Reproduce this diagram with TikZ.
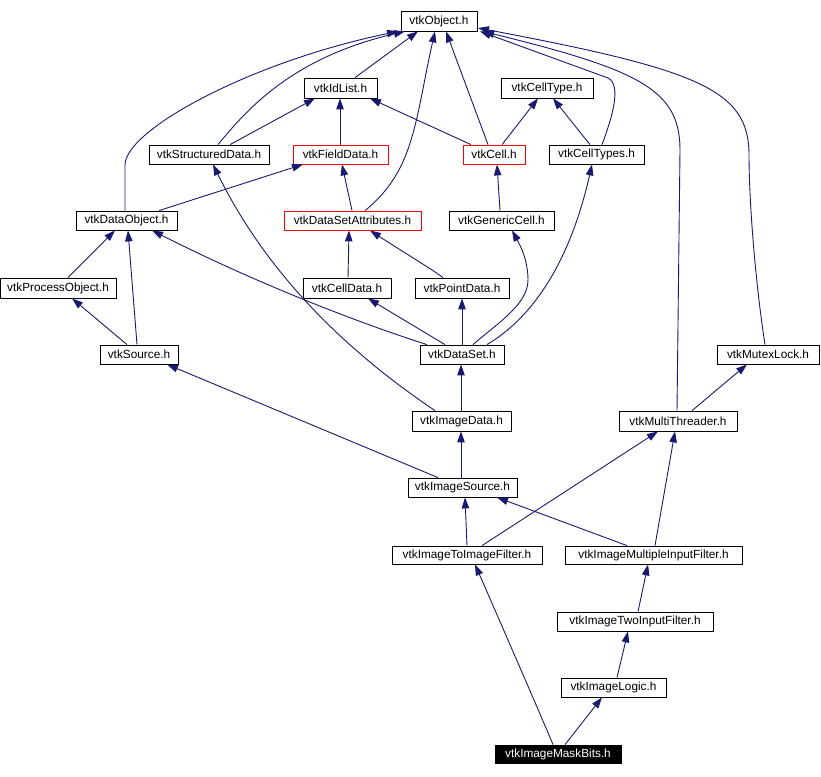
\documentclass[tikz,border=0pt]{standalone}
\usepackage{fontspec}
\setmainfont{Liberation Sans}
\usetikzlibrary{arrows.meta}
\definecolor{edgeblue}{HTML}{191970}
\begin{document}
\begin{tikzpicture}[x=1pt,y=-1pt,
  box/.style={draw=black, line width=0.8pt, inner sep=0pt, minimum height=19pt,
    font=\fontsize{11.8}{14}\selectfont, fill=white},
  redbox/.style={box, draw=red},
  blackbox/.style={box, fill=black, text=white},
  edge/.style={draw=edgeblue, line width=0.9pt, -{Triangle[length=11pt,width=7.5pt]}}]
\useasboundingbox (0,0) rectangle (821,776);
% nodes
\node[box, minimum width=76pt, minimum height=20pt] (obj) at (439,21) {vtkObject.h};
\node[box, minimum width=73pt, minimum height=20pt] (idl) at (340.5,88) {vtkIdList.h};
\node[box, minimum width=92pt, minimum height=20pt] (ctype) at (547,88) {vtkCellType.h};
\node[box, minimum width=120pt] (sd) at (209,154.5) {vtkStructuredData.h};
\node[redbox, minimum width=95pt] (fd) at (340.5,154.5) {vtkFieldData.h};
\node[redbox, minimum width=62pt] (cell) at (494,154.5) {vtkCell.h};
\node[box, minimum width=95pt] (cts) at (596.5,154.5) {vtkCellTypes.h};
\node[box, minimum width=101pt] (do) at (126.5,220.5) {vtkDataObject.h};
\node[redbox, minimum width=137pt] (dsa) at (352.5,220.5) {vtkDataSetAttributes.h};
\node[box, minimum width=105pt] (gc) at (501.5,220.5) {vtkGenericCell.h};
\node[box, minimum width=116pt, minimum height=20pt] (po) at (58,288) {vtkProcessObject.h};
\node[box, minimum width=88pt, minimum height=20pt] (cd) at (347,288) {vtkCellData.h};
\node[box, minimum width=94pt, minimum height=20pt] (pd) at (462,288) {vtkPointData.h};
\node[box, minimum width=78pt] (src) at (139,354.5) {vtkSource.h};
\node[box, minimum width=84pt] (ds) at (462,354.5) {vtkDataSet.h};
\node[box, minimum width=102pt] (ml) at (768,354.5) {vtkMutexLock.h};
\node[box, minimum width=99pt, minimum height=20pt] (id) at (461.5,421) {vtkImageData.h};
\node[box, minimum width=118pt, minimum height=20pt] (mt) at (678,421) {vtkMultiThreader.h};
\node[box, minimum width=109pt] (is) at (462.5,487.5) {vtkImageSource.h};
\node[box, minimum width=150pt, minimum height=18pt] (itif) at (467,555) {vtkImageToImageFilter.h};
\node[box, minimum width=177pt, minimum height=18pt] (imif) at (653.5,555) {vtkImageMultipleInputFilter.h};
\node[box, minimum width=156pt] (tif) at (635,621.5) {vtkImageTwoInputFilter.h};
\node[box, minimum width=105pt] (il) at (613.5,687.5) {vtkImageLogic.h};
\node[blackbox, minimum width=126pt, minimum height=18pt] (mb) at (558,754) {vtkImageMaskBits.h};
% edges (child -> parent)
\draw[edge] (355,0 |- idl.north) -- (418,0 |- obj.south);
\draw[edge] (218,0 |- sd.north) .. controls (245,112) and (290,58) .. (405,0 |- obj.south);
\draw[edge] (125,0 |- do.north) -- (125,165) .. controls (125,130) and (250,62) .. (398,0 |- obj.south);
\draw[edge] (365,0 |- dsa.north) .. controls (415,170) and (415,120) .. (435,0 |- obj.south);
\draw[edge] (488,0 |- cell.north) -- (446,0 |- obj.south);
\draw[edge] (602,0 |- cts.north) .. controls (612,118) and (622,85) .. (608,78) -- (480,0 |- obj.south);
\draw[edge] (677,0 |- mt.north) -- (680,150) .. controls (680,90) and (640,70) .. (483,0 |- obj.south);
\draw[edge] (765,0 |- ml.north) .. controls (755,280) and (749,200) .. (749,155) .. controls (749,90) and (700,70) .. (478,28);
\draw[edge] (230,0 |- sd.north) -- (315,0 |- idl.south);
\draw[edge] (340,0 |- fd.north) -- (340,0 |- idl.south);
\draw[edge] (471,0 |- cell.north) -- (370,0 |- idl.south);
\draw[edge] (502,0 |- cell.north) -- (538,0 |- ctype.south);
\draw[edge] (590,0 |- cts.north) -- (553,0 |- ctype.south);
\draw[edge] (159,0 |- do.north) -- (303,0 |- fd.south);
\draw[edge] (352,0 |- dsa.north) -- (342,0 |- fd.south);
\draw[edge] (500,0 |- gc.north) -- (497,0 |- cell.south);
\draw[edge] (68,0 |- po.north) -- (115,0 |- do.south);
\draw[edge] (137,0 |- src.north) -- (128,0 |- do.south);
\draw[edge] (127,0 |- src.north) -- (72,0 |- po.south);
\draw[edge] (348,0 |- cd.north) -- (349,0 |- dsa.south);
\draw[edge] (443,0 |- pd.north) .. controls (430,268) and (400,250) .. (370,0 |- dsa.south);
\draw[edge] (427,0 |- ds.north) .. controls (350,320) and (250,280) .. (152,0 |- do.south);
\draw[edge] (445,0 |- ds.north) -- (368,0 |- cd.south);
\draw[edge] (462,0 |- ds.north) -- (462,0 |- pd.south);
\draw[edge] (473,0 |- ds.north) .. controls (495,325) and (528,305) .. (528,280) .. controls (528,260) and (520,245) .. (512,0 |- gc.south);
\draw[edge] (487,0 |- ds.north) .. controls (545,310) and (575,240) .. (592,0 |- cts.south);
\draw[edge] (461,0 |- id.north) -- (461,0 |- ds.south);
\draw[edge] (435,0 |- id.north) .. controls (330,340) and (260,260) .. (213,0 |- sd.south);
\draw[edge] (692,0 |- mt.north) -- (747,0 |- ml.south);
\draw[edge] (461,0 |- is.north) -- (461,0 |- id.south);
\draw[edge] (438,0 |- is.north) -- (167,0 |- src.south);
\draw[edge] (467,0 |- itif.north) -- (465,0 |- is.south);
\draw[edge] (482,0 |- itif.north) -- (658,0 |- mt.south);
\draw[edge] (627,0 |- imif.north) -- (497,0 |- is.south);
\draw[edge] (655,0 |- imif.north) -- (675,0 |- mt.south);
\draw[edge] (638,0 |- tif.north) -- (648,0 |- imif.south);
\draw[edge] (617,0 |- il.north) -- (628,0 |- tif.south);
\draw[edge] (553,0 |- mb.north) .. controls (545,725) and (495,610) .. (475,0 |- itif.south);
\draw[edge] (565,0 |- mb.north) -- (602,0 |- il.south);
\end{tikzpicture}
\end{document}
